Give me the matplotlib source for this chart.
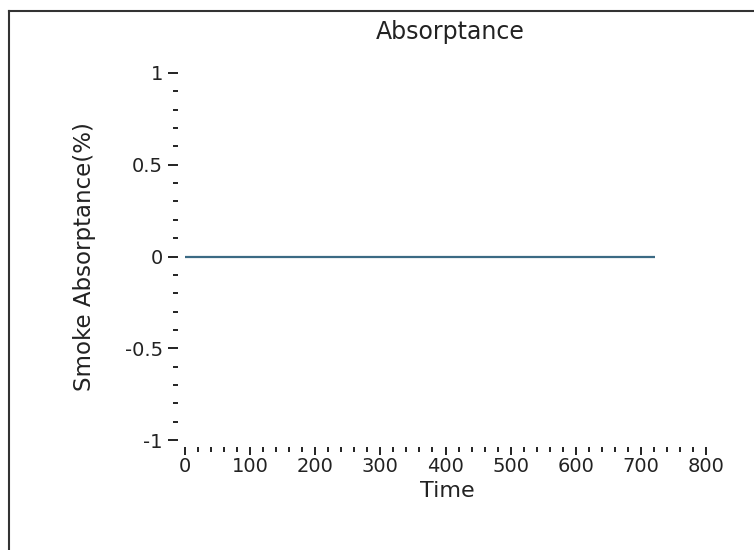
import numpy as np
import matplotlib
matplotlib.use("Agg")
import matplotlib.pyplot as plt
from matplotlib.lines import Line2D
from matplotlib.ticker import MultipleLocator

# smoke absorptance trace (flat at zero)
time = [0, 722]
absorptance = [0, 0]

x_ticks = [0, 100, 200, 300, 400, 500, 600, 700, 800]
y_ticks = [-1, -0.5, 0, 0.5, 1]
y_tick_labels = ["-1", "-0.5", "0", "0.5", "1"]

W, H = 754, 550
fig = plt.figure(figsize=(W / 100, H / 100), dpi=100)
fig.patch.set_facecolor("white")

# axes box in pixels: x 185..706, y 73..440 (from top)
ax = fig.add_axes([185 / W, 1 - 440 / H, (706 - 185) / W, (440 - 73) / H])
ax.plot(time, absorptance, color="#3b6a84", lw=1.6, solid_capstyle="butt")

ax.set_xlim(0, 800)
ax.set_ylim(-1, 1)
ax.set_xticks(x_ticks)
ax.set_yticks(y_ticks)
ax.set_yticklabels(y_tick_labels)
ax.xaxis.set_minor_locator(MultipleLocator(20))
ax.yaxis.set_minor_locator(MultipleLocator(0.1))

for s in ["top", "right"]:
    ax.spines[s].set_visible(False)
ax.spines["left"].set_position(("outward", 5))
ax.spines["bottom"].set_position(("outward", 5))
ax.spines["left"].set_color("none")
ax.spines["bottom"].set_color("none")

ax.tick_params(which="major", direction="out", color="#222222", width=1.4,
               labelsize=14, labelcolor="#222222")
ax.tick_params(axis="y", which="major", length=7, pad=4)
ax.tick_params(axis="x", which="major", length=6, pad=1)
ax.tick_params(which="minor", direction="out", length=3.5, width=1.4, color="#222222")

fig.text(450 / W, 1 - 32 / H, "Absorptance", ha="center", va="center",
         fontsize=17, color="#222222")
fig.text(447 / W, 1 - 491 / H, "Time", ha="center", va="center",
         fontsize=16, color="#222222")
fig.text(85 / W, 1 - 257 / H, "Smoke Absorptance(%)", ha="center", va="center",
         rotation=90, fontsize=16.5, color="#222222")

# frame lines (top and left only)
fig.add_artist(Line2D([9 / W, 1], [1 - 11 / H, 1 - 11 / H], color="#333333", lw=1.5))
fig.add_artist(Line2D([9 / W, 9 / W], [0, 1 - 11 / H], color="#333333", lw=1.5))

fig.savefig("out.png", dpi=100)
